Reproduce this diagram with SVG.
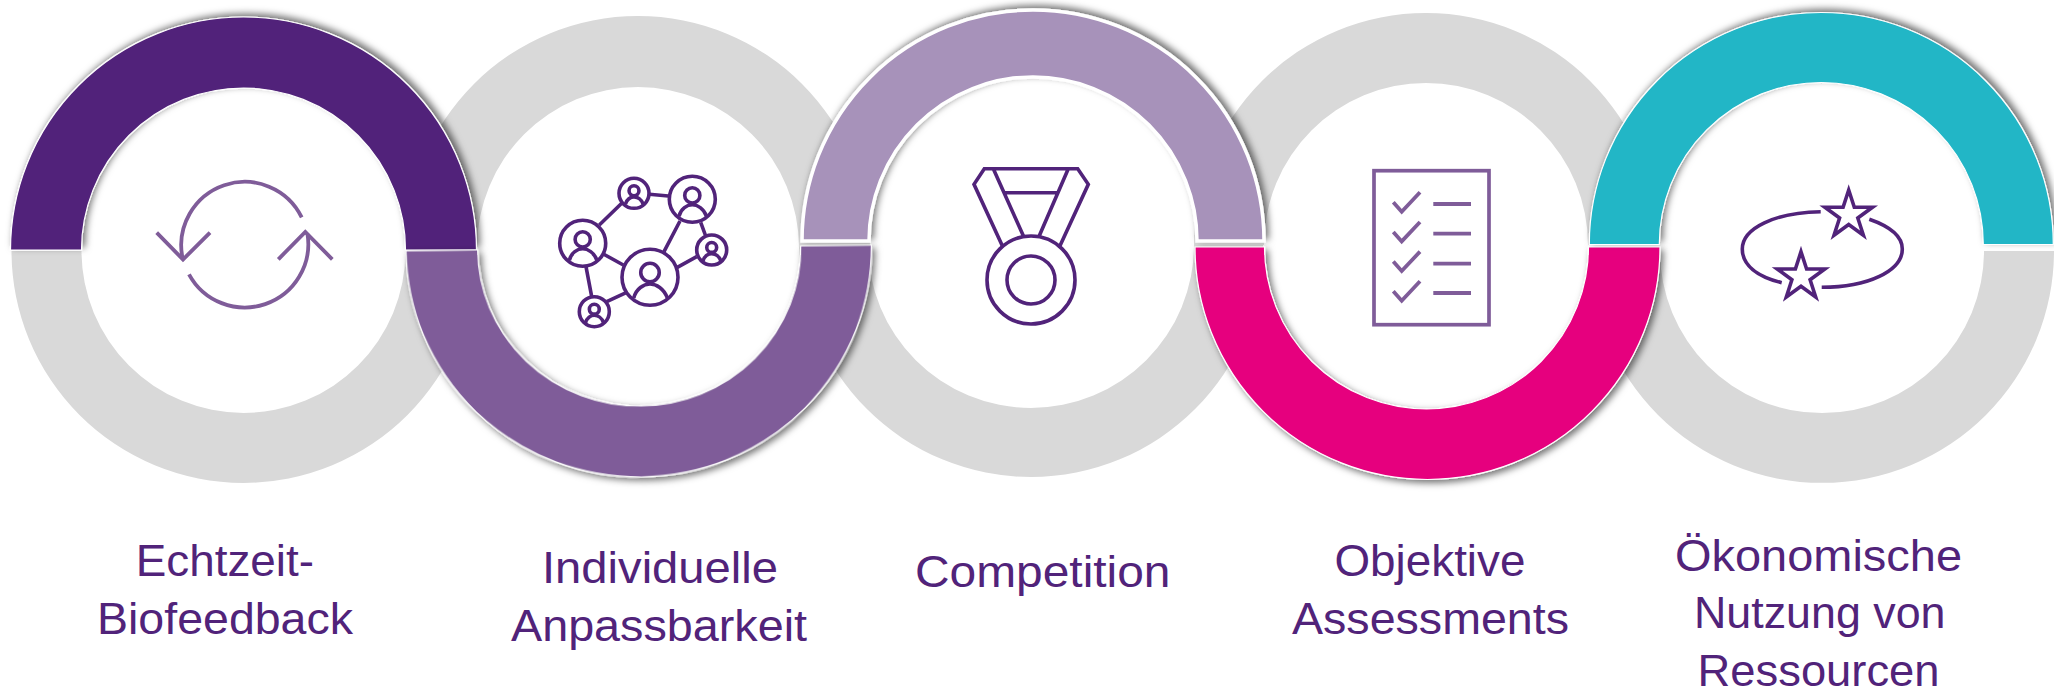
<svg xmlns="http://www.w3.org/2000/svg" width="2054" height="691" viewBox="0 0 2054 691">
<style>
.label{font-family:"Liberation Sans",Arial,sans-serif;font-size:45px;fill:#51237A;text-anchor:start}
.arc{stroke:#fff;stroke-width:1.2}
.gray{fill:#D9D9D9}
.ic{fill:none;stroke:#51237A;stroke-width:3.6}
.ic2{fill:none;stroke:#7F5C99;stroke-width:3.8}
.ns{vector-effect:non-scaling-stroke}
</style>
<defs>
<filter id="shUp" x="-10%" y="-10%" width="120%" height="120%"><feDropShadow dx="3" dy="-3" stdDeviation="3.5" flood-color="#000" flood-opacity=".55"/></filter>
<filter id="shDown" x="-10%" y="-10%" width="120%" height="120%"><feDropShadow dx="3" dy="3" stdDeviation="3.5" flood-color="#000" flood-opacity=".55"/></filter>
<g id="person"><circle class="ns" cx="0" cy="-.17" r=".33"/><path class="ns" d="M-.58,.74C-.5,.4-.22,.24 0,.24C.22,.24 .5,.4 .62,.74"/></g>
</defs>
<rect width="2054" height="691" fill="#fff"/>
<g id="gray-rings">
<path class="gray" d="M11.5,251A232,232 0 0 0 475.5,251L405.5,251A162,162 0 0 1 81.5,251Z"/>
<path class="gray" d="M406,248A232,232 0 0 1 870,248L799,248A161,161 0 0 0 477,248Z"/>
<path class="gray" d="M799,245A232,232 0 0 0 1263,245L1194,245A163,163 0 0 1 868,245Z"/>
<path class="gray" d="M1194,245A232,232 0 0 1 1658,245L1588,245A162,162 0 0 0 1264,245Z"/>
<path class="gray" d="M1590,251A232,232 0 0 0 2054,251L1984,251A162,162 0 0 1 1660,251Z"/>
</g>
<g id="node-1">
<path class="arc" fill="#51237A" filter="url(#shUp)" d="M10.5,250A233,233 0 0 1 476.5,250L405.5,250A162,162 0 0 0 81.5,250Z"/>
<g class="ic2">
<path d="M301.7,217.3A63.5,63.5 0 0 0 182.5,258"/><path d="M156.7,232.7L183,259.5L210,232.7"/>
<path d="M189,274.3A63.5,63.5 0 0 0 307.5,234"/><path d="M278.3,259.3L305.3,232L332.3,259.3"/>
</g>
<text class="label" x="135.7" y="576" textLength="178.3" lengthAdjust="spacingAndGlyphs">Echtzeit-</text>
<text class="label" x="97" y="634" textLength="256" lengthAdjust="spacingAndGlyphs">Biofeedback</text>
</g>
<g id="node-2">
<path class="arc" fill="#7F5C99" filter="url(#shDown)" transform="rotate(-.7 638.7 248)" d="M406,248A232.7,229 0 0 0 871.4,248L800.7,248A161.5,158 0 0 1 477.7,248Z"/>
<g class="ic">
<path d="M599.3,225L621.7,203.3M649.3,194.3L668.3,196M680,221L664,251.7M700.7,222.3L705.7,236M696.7,256.7L677.3,267.3M603.3,254L623.3,265M586,266.7L591.7,296.7M606.7,301.7L626.7,292.3"/>
<circle cx="582.7" cy="243.3" r="23"/><circle cx="634" cy="193.3" r="15"/><circle cx="692.3" cy="199.3" r="23"/><circle cx="711.7" cy="250" r="15"/><circle cx="650" cy="277.3" r="28"/><circle cx="594.3" cy="311.7" r="15"/>
<use href="#person" transform="translate(582.7 243.3) scale(23)"/><use href="#person" transform="translate(634 193.3) scale(15)"/><use href="#person" transform="translate(692.3 199.3) scale(23)"/><use href="#person" transform="translate(711.7 250) scale(15)"/><use href="#person" transform="translate(650 277.3) scale(28)"/><use href="#person" transform="translate(594.3 311.7) scale(15)"/>
</g>
<text class="label" x="542" y="582.7" textLength="236" lengthAdjust="spacingAndGlyphs">Individuelle</text>
<text class="label" x="511" y="641" textLength="296" lengthAdjust="spacingAndGlyphs">Anpassbarkeit</text>
</g>
<g id="node-3">
<path fill="#A792BA" stroke="#fff" stroke-width="3.5" filter="url(#shUp)" d="M802,241A231,231 0 0 1 1264,241L1197,241A164,164 0 0 0 869,241Z"/>
<g class="ic">
<path d="M1002.3,245.7L974,184.3L984.3,168.7H1077.7L1088.3,184.3L1060,245.7M993.3,168.7L1023.3,235.7M1068.3,168.7L1039.3,235.7M1005,192.7H1058.3"/>
<circle cx="1031" cy="280" r="44"/><circle cx="1031" cy="280" r="24"/>
</g>
<text class="label" x="915" y="586.7" textLength="255.5" lengthAdjust="spacingAndGlyphs">Competition</text>
</g>
<g id="node-4">
<path class="arc" fill="#E6007E" filter="url(#shDown)" d="M1195,247A232.5,232.5 0 0 0 1660,247L1588.5,247A162,162 0 0 1 1264.5,247Z"/>
<g class="ic2">
<rect x="1374" y="170.7" width="115" height="154" stroke-width="3.7"/>
<path d="M1393.3,202.3L1401.7,211.7L1420,192.3M1393.3,232L1401.7,241.4L1420,222M1393.3,261.6L1401.7,271L1420,251.6M1393.3,291.3L1401.7,300.7L1420,281.3"/>
<path d="M1433.3,204H1471M1433.3,233.7H1471M1433.3,263.7H1471M1433.3,293H1471"/>
</g>
<text class="label" x="1334.5" y="575.7" textLength="190.9" lengthAdjust="spacingAndGlyphs">Objektive</text>
<text class="label" x="1292" y="634" textLength="277" lengthAdjust="spacingAndGlyphs">Assessments</text>
</g>
<g id="node-5">
<path class="arc" fill="#22B6C6" filter="url(#shUp)" d="M1589.3,244.5A232,232 0 0 1 2053.3,244.5L1983.3,244.5A162,162 0 0 0 1659.3,244.5Z"/>
<g class="ic">
<path d="M1820.7,211.7C1775,212.5 1742.3,228 1742.3,249C1742.3,265 1757,276.5 1781.7,282.7"/>
<path d="M1821.7,287.3C1868,287.3 1902.3,271 1902.3,249C1902.3,237 1890,226.5 1869.3,219.3"/>
<path stroke-miterlimit="10" d="M1848.7,190L1854.3,207.3H1872.5L1857.8,218L1863.4,235.3L1848.7,224.6L1834,235.3L1839.6,218L1824.9,207.3H1843.1Z"/>
<path stroke-miterlimit="10" d="M1801,251.7L1806.6,269H1824.8L1810.1,279.7L1815.7,297L1801,286.3L1786.3,297L1791.9,279.7L1777.2,269H1795.4Z"/>
</g>
<text class="label" x="1675" y="571" textLength="287" lengthAdjust="spacingAndGlyphs">Ökonomische</text>
<text class="label" x="1694" y="627.7" textLength="251.5" lengthAdjust="spacingAndGlyphs">Nutzung von</text>
<text class="label" x="1697.6" y="685.7" textLength="241.9" lengthAdjust="spacingAndGlyphs">Ressourcen</text>
</g>
</svg>
